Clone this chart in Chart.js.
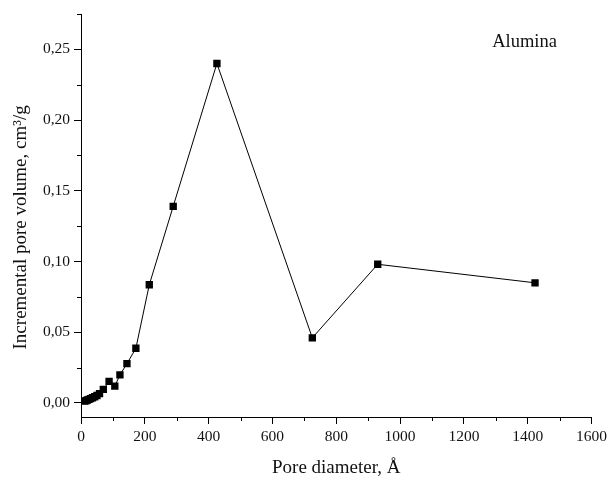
<!DOCTYPE html>
<html>
<head>
<meta charset="utf-8">
<script src="https://cdn.jsdelivr.net/npm/chart.js@4.4.0/dist/chart.umd.min.js"></script>
<style>
  body { margin: 0; background: #fff; }
  #wrap { width: 611px; height: 478px; }
</style>
</head>
<body>
<div id="wrap"><canvas id="myChart"></canvas></div>
<script>
// pore diameter (A) and incremental pore volume (cm3/g)
const diameter = [12, 16, 20, 25, 30, 36, 43, 50, 58, 70, 88, 106, 122, 144, 172, 214, 289, 426, 725, 930, 1423];
const volume = [0.0012, 0.0016, 0.0020, 0.0025, 0.0030, 0.0036, 0.0043, 0.0052, 0.0065, 0.0095, 0.0152, 0.0118, 0.0198, 0.0277, 0.0386, 0.0835, 0.139, 0.240, 0.046, 0.098, 0.0849];

const xTicks = [0, 200, 400, 600, 800, 1000, 1200, 1400, 1600];
const xMinor = [100, 300, 500, 700, 900, 1100, 1300, 1500];
const yTicks = [0, 0.05, 0.10, 0.15, 0.20, 0.25];
const yMinor = [0.025, 0.075, 0.125, 0.175, 0.225, 0.275];

const seriesName = "Alumina";
const labelAt = [1390, 0.255];

const FONT = "'Liberation Serif', 'Times New Roman', serif";

// small ticks + the sample name
const extras = {
  id: "extras",
  afterDraw(chart) {
    const ctx = chart.ctx;
    const xs = chart.scales.x, ys = chart.scales.y;
    const area = chart.chartArea;
    ctx.save();
    ctx.strokeStyle = "#000";
    ctx.lineWidth = 1;
    ctx.beginPath();
    xMinor.forEach(function(v){
      let px = Math.round(xs.getPixelForValue(v)) + 0.5;
      ctx.moveTo(px, area.bottom);
      ctx.lineTo(px, area.bottom + 4);
    });
    yMinor.forEach(function(v){
      let py = Math.round(ys.getPixelForValue(v)) + 0.5;
      ctx.moveTo(area.left, py);
      ctx.lineTo(area.left - 4, py);
    });
    ctx.stroke();

    ctx.fillStyle = "#111";
    ctx.font = "18.5px " + FONT;
    ctx.textAlign = "center";
    ctx.textBaseline = "middle";
    ctx.fillText(seriesName, xs.getPixelForValue(labelAt[0]), ys.getPixelForValue(labelAt[1]));
    ctx.restore();
  }
};

const ctx = document.getElementById("myChart");

new Chart(ctx, {
  type: "scatter",
  data: {
    datasets: [{
      label: seriesName,
      data: diameter.map(function(d, i){ return {x: d, y: volume[i]}; }),
      showLine: true,
      borderColor: "#000",
      borderWidth: 1,
      backgroundColor: "#000",
      pointStyle: "rect",
      pointRadius: 5.2,
      pointBorderWidth: 0,
      pointHoverRadius: 5.2
    }]
  },
  options: {
    responsive: true,
    maintainAspectRatio: false,
    animation: false,
    layout: { padding: { top: 14, right: 18, left: 0, bottom: 0 } },
    plugins: {
      legend: { display: false },
      tooltip: { enabled: false }
    },
    scales: {
      x: {
        type: "linear",
        min: 0,
        max: 1600,
        afterBuildTicks: function(scale){ scale.ticks = xTicks.map(v => ({value: v})); },
        afterFit: function(scale){ scale.height = 61; },
        border: { display: true, color: "#000", width: 1 },
        grid: { drawOnChartArea: false, drawTicks: true, tickLength: 7, color: "#000", tickWidth: 1 },
        ticks: {
          color: "#111",
          padding: 4,
          maxRotation: 0,
          font: { family: FONT, size: 15.5 },
          callback: function(v){ return String(v); }
        },
        title: {
          display: true,
          text: "Pore diameter, Å",
          color: "#111",
          padding: { top: 0, bottom: 0 },
          font: { family: FONT, size: 19, lineHeight: 1 }
        }
      },
      y: {
        type: "linear",
        min: -0.01,
        max: 0.275,
        afterBuildTicks: function(scale){ scale.ticks = yTicks.map(v => ({value: v})); },
        afterFit: function(scale){ scale.width = 81; },
        border: { display: true, color: "#000", width: 1 },
        grid: { drawOnChartArea: false, drawTicks: true, tickLength: 7, color: "#000", tickWidth: 1 },
        ticks: {
          color: "#111",
          padding: 4,
          font: { family: FONT, size: 15.5 },
          callback: function(v){ return v.toFixed(2).replace(".", ","); }
        },
        title: {
          display: true,
          text: "Incremental pore volume, cm³/g     ",
          color: "#111",
          padding: { top: 12, bottom: 0 },
          font: { family: FONT, size: 19, lineHeight: 1 }
        }
      }
    }
  },
  plugins: [extras]
});
</script>
</body>
</html>
